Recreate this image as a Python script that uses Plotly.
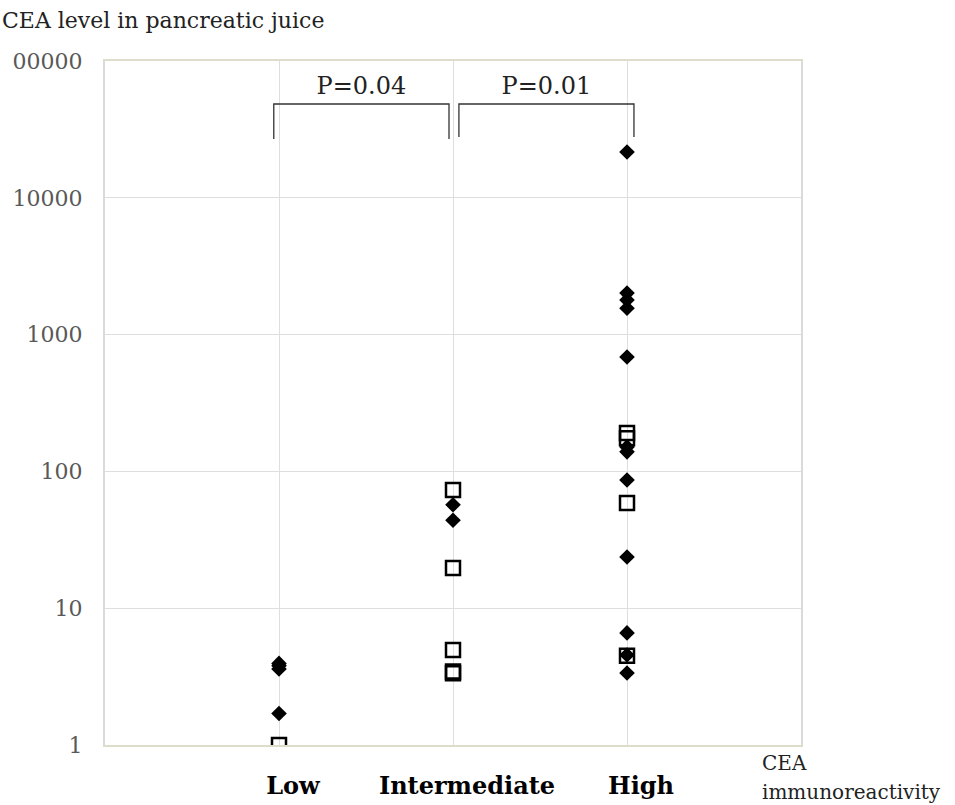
import plotly.graph_objects as go

# ---- data ----
categories = ["Low", "Intermediate", "High"]
cat_pos = [1, 2, 3]

# filled diamonds
diamond_x = [1, 1, 1, 1,
             2, 2,
             3, 3, 3, 3, 3, 3, 3, 3, 3, 3, 3, 3]
diamond_y = [3.6, 3.8, 3.95, 1.7,
             57, 44,
             21600, 2010, 1790, 1560, 686, 151, 139, 86.5, 23.7, 6.6, 4.55, 3.36]

# open squares
square_x = [1,
            2, 2, 2, 2, 2,
            3, 3, 3, 3]
square_y = [1.0,
            73, 19.7, 4.95, 3.35, 3.45,
            191, 175, 58.7, 4.5]

y_tickvals = [1, 10, 100, 1000, 10000, 100000]
y_ticktext = ["1", "10", "100", "1000", "10000", "00000"]

# significance brackets: (x_left, x_right, y_top, y_bottom_left, y_bottom_right, label)
brackets = [
    (0.97, 1.977, 48500, 26900, 26900, "P=0.04"),
    (2.034, 3.04, 48500, 27800, 27800, "P=0.01"),
]
p_label_y = 63500

SERIF = "DejaVu Serif"
L, R, T, B = 105, 154, 61, 60
PW, PH = 955 - L - R, 805 - T - B

fig = go.Figure()

fig.add_trace(go.Scatter(
    x=diamond_x, y=diamond_y, mode="markers",
    marker=dict(symbol="diamond", size=12, color="black", line=dict(width=0)),
    showlegend=False, hoverinfo="y"))

fig.add_trace(go.Scatter(
    x=square_x, y=square_y, mode="markers",
    marker=dict(symbol="square-open", size=14, color="black", line=dict(width=2.5, color="black")),
    showlegend=False, hoverinfo="y"))

for xl, xr, yt, ybl, ybr, lab in brackets:
    fig.add_trace(go.Scatter(
        x=[xl, xl, xr, xr], y=[ybl, yt, yt, ybr], mode="lines",
        line=dict(color="#333333", width=1.3), showlegend=False, hoverinfo="skip"))
    fig.add_trace(go.Scatter(
        x=[(xl + xr) / 2], y=[p_label_y], mode="text", text=[lab],
        textfont=dict(family=SERIF, size=24, color="#222222"),
        showlegend=False, hoverinfo="skip"))

fig.update_layout(
    width=955, height=805,
    margin=dict(l=L, r=R, t=T, b=B),
    paper_bgcolor="white", plot_bgcolor="white",
    xaxis=dict(
        range=[0, 4], tickvals=cat_pos, ticktext=categories, automargin=False,
        showgrid=True, gridcolor="#dedede", gridwidth=1,
        zeroline=False, showline=True, linecolor="#deddcc", linewidth=2, mirror=True,
        ticks="outside", ticklen=0, ticklabelstandoff=18, ticklabelshift=14,
        tickfont=dict(family=SERIF, size=24, color="black", weight="bold"),
    ),
    yaxis=dict(
        type="log", range=[0, 5], tickvals=y_tickvals, ticktext=y_ticktext, automargin=False,
        showgrid=True, gridcolor="#dedede", gridwidth=1,
        zeroline=False, showline=True, linecolor="#dadad8", linewidth=2, mirror=True,
        ticks="outside", ticklen=0, ticklabelstandoff=16,
        tickfont=dict(family=SERIF, size=22, color="#595959"),
    ),
    annotations=[
        dict(text="CEA level in pancreatic juice", xref="paper", yref="paper",
             x=(0 - L) / PW, y=1 + (T - 20) / PH, xanchor="left", yanchor="middle",
             showarrow=False, font=dict(family=SERIF, size=22, color="#222222")),
        dict(text="CEA", xref="paper", yref="paper",
             x=1 + (760 - (955 - R)) / PW, y=(745 - 763) / PH, xanchor="left", yanchor="middle",
             showarrow=False, font=dict(family=SERIF, size=20, color="#222222")),
        dict(text="immunoreactivity", xref="paper", yref="paper",
             x=1 + (760 - (955 - R)) / PW, y=(745 - 792) / PH, xanchor="left", yanchor="middle",
             showarrow=False, font=dict(family=SERIF, size=20, color="#222222")),
    ],
)

fig.write_html("out.html", config={"displayModeBar": False},
               post_script="document.body.style.margin='0';document.body.style.padding='0';")
